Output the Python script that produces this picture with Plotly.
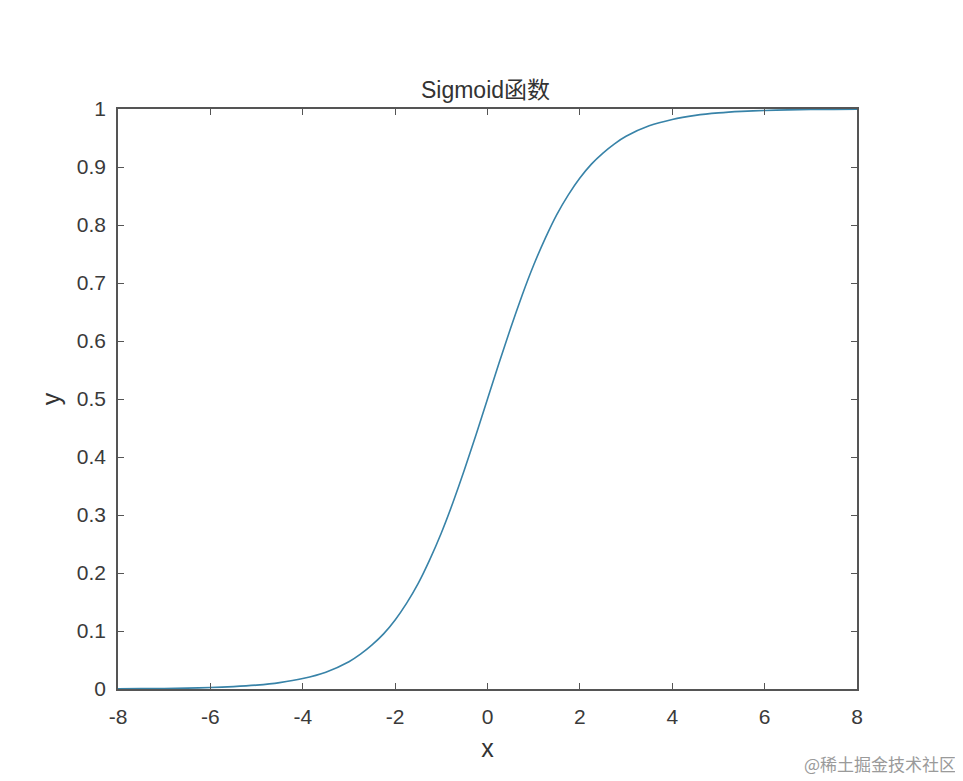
import plotly.graph_objects as go

# Values
x_vals = [-8, -7.5, -7, -6.5, -6, -5.5, -5, -4.5, -4, -3.5, -3, -2.75, -2.5, -2.25, -2, -1.75, -1.5, -1.25, -1,
          -0.75, -0.5, -0.25, 0, 0.25, 0.5, 0.75, 1, 1.25, 1.5, 1.75, 2, 2.25, 2.5, 2.75, 3, 3.5, 4, 4.5,
          5, 5.5, 6, 6.5, 7, 7.5, 8]
y_vals = [0.0003, 0.0006, 0.0009, 0.0015, 0.0025, 0.0041, 0.0067, 0.011, 0.018, 0.029, 0.047, 0.060, 0.076,
          0.095, 0.119, 0.148, 0.182, 0.223, 0.269, 0.321, 0.378, 0.438, 0.5, 0.562, 0.622, 0.679, 0.731,
          0.777, 0.818, 0.852, 0.881, 0.905, 0.924, 0.940, 0.953, 0.971, 0.982, 0.989, 0.9933, 0.9959,
          0.9975, 0.9985, 0.9991, 0.9994, 0.9997]
x_ticks = [-8, -6, -4, -2, 0, 2, 4, 6, 8]
y_ticks = [0, 0.1, 0.2, 0.3, 0.4, 0.5, 0.6, 0.7, 0.8, 0.9, 1]
y_tick_text = ["0", "0.1", "0.2", "0.3", "0.4", "0.5", "0.6", "0.7", "0.8", "0.9", "1"]
title_text = "Sigmoid函数"
watermark = "@稀土掘金技术社区"

W, H = 955, 773
L, R, T, B = 110, 106, 101, 92

fig = go.Figure()
fig.add_trace(go.Scatter(x=x_vals, y=y_vals, mode="lines",
                         line=dict(color="#3883a8", width=1.6, shape="spline", smoothing=0.6),
                         showlegend=False, hoverinfo="skip"))

axis_common = dict(showgrid=False, zeroline=False, showline=True, mirror="ticks",
                   linecolor="#555555", linewidth=1.5, ticks="inside", ticklen=6,
                   tickcolor="#555555", tickwidth=1.2,
                   tickfont=dict(family="Arial, Liberation Sans", size=21, color="#3a3a3a"))

fig.update_layout(
    width=W, height=H,
    paper_bgcolor="white", plot_bgcolor="white",
    margin=dict(l=L, r=R, t=T, b=B),
    title=dict(text=title_text, x=0.5, xanchor="center", y=1 - 82 / H, yanchor="middle",
               font=dict(family="Arial, Noto Sans CJK SC", size=23, color="#333333")),
    xaxis=dict(range=[-8, 8], tickvals=x_ticks, ticktext=[str(v) for v in x_ticks],
               ticklabelstandoff=8,
               title=dict(text="x", font=dict(family="Arial", size=25, color="#333333"), standoff=13),
               **axis_common),
    yaxis=dict(range=[0, 1], tickvals=y_ticks, ticktext=y_tick_text,
               ticklabelstandoff=6,
               title=dict(text="y", font=dict(family="Arial", size=25, color="#333333"), standoff=9),
               **axis_common),
    annotations=[dict(text=watermark, xref="paper", yref="paper", x=(950 - L) / (W - L - R),
                      y=-(755 - (H - B)) / (H - T - B), xanchor="right", yanchor="middle",
                      showarrow=False, font=dict(family="Noto Sans CJK SC", size=17, color="#9a9a9a"))],
)

fig.write_html("out.html")
